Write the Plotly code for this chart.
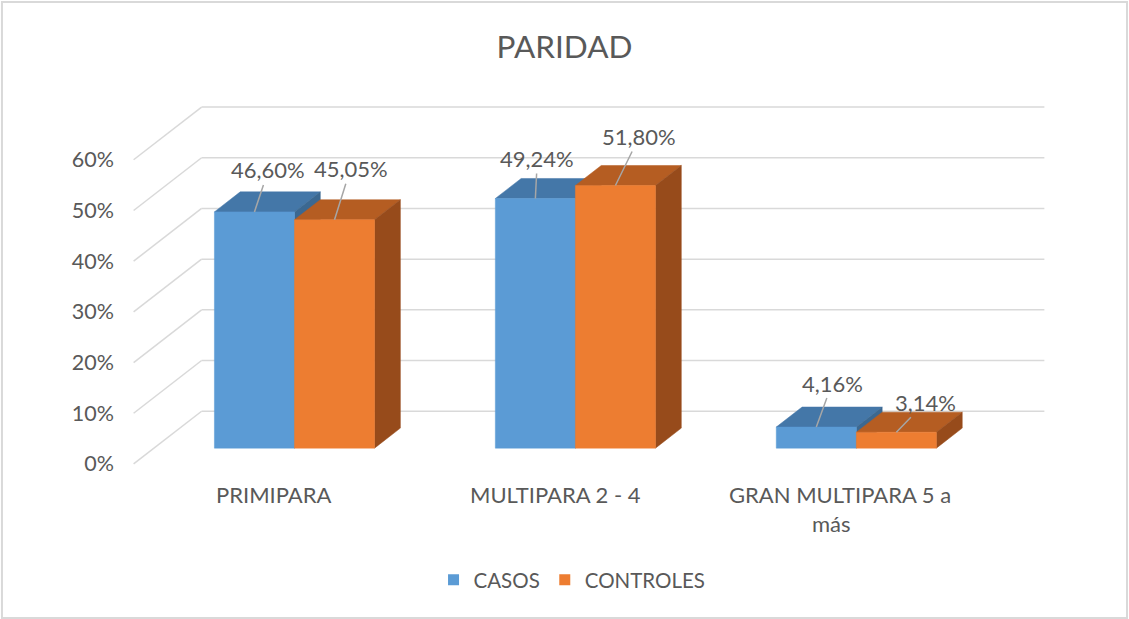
import plotly.graph_objects as go

# ---------------- data ----------------
categories = ["PRIMIPARA", "MULTIPARA 2 - 4", "GRAN MULTIPARA 5 a más"]
casos = [46.60, 49.24, 4.16]
controles = [45.05, 51.80, 3.14]
series_names = ["CASOS", "CONTROLES"]
tick_values = [0, 10, 20, 30, 40, 50, 60]
tick_labels = ["0%", "10%", "20%", "30%", "40%", "50%", "60%"]
title_text = "PARIDAD"

# ---------------- style / projection ----------------
FONT = "Lato"
TXT = "#595959"
GRID = "#D9D9D9"
DX = 0.242      # full depth shift along x (category units)
DY = 10.4       # full depth shift along y (percent units)
D0, D1 = 0.30, 0.68   # bar depth start / end (fraction of full depth)
BW = 0.285      # bar width
front_cols = ["#5B9BD5", "#ED7D31"]
top_cols = ["#4477A8", "#B55D22"]
side_cols = ["#3B6891", "#974B1B"]
label_offsets = [[(14, -42), (16, -51)], [(2, -40), (24, -49)], [(16, -44), (29, -30)]]

fig = go.Figure()

# walls: back grid lines and left-wall diagonals
gx, gy = [], []
for v in tick_values:
    gx += [-0.5 + DX, 2.5 + DX, None]
    gy += [v + DY, v + DY, None]
    gx += [-0.5, -0.5 + DX, None]
    gy += [v, v + DY, None]
fig.add_trace(go.Scatter(x=gx, y=gy, mode="lines", line=dict(color=GRID, width=1.5),
                         hoverinfo="skip", showlegend=False))

def poly(xs, ys, color):
    fig.add_trace(go.Scatter(x=xs + [xs[0]], y=ys + [ys[0]], mode="lines", fill="toself",
                             fillcolor=color, line=dict(color=color, width=0.5),
                             hoverinfo="skip", showlegend=False))

series = [casos, controles]
annotations = []
bx0 = D0 * DX
by0 = D0 * DY
ddx = (D1 - D0) * DX
ddy = (D1 - D0) * DY
for i, cat in enumerate(categories):
    for s, vals in enumerate(series):
        v = vals[i]
        xl = i + bx0 + (-BW if s == 0 else 0)
        xr = xl + BW
        b = by0
        top = b + v
        # top face
        poly([xl, xr, xr + ddx, xl + ddx], [top, top, top + ddy, top + ddy], top_cols[s])
        # side face
        poly([xr, xr, xr + ddx, xr + ddx], [b, top, top + ddy, b + ddy], side_cols[s])
        # front face
        poly([xl, xr, xr, xl], [b, b, top, top], front_cols[s])
        ax, ay = label_offsets[i][s]
        annotations.append(dict(
            x=(xl + xr) / 2, y=top, xref="x", yref="y",
            text=f"{v:.2f}".replace(".", ",") + "%",
            showarrow=True, arrowhead=0, arrowwidth=1.5, arrowcolor="#A6A6A6",
            ax=ax, ay=ay, standoff=0,
            font=dict(family=FONT, size=22, color=TXT)))

# legend entries
for s, name in enumerate(series_names):
    fig.add_trace(go.Scatter(x=[None], y=[None], mode="markers", name=name,
                             marker=dict(symbol="square", size=11, color=front_cols[s])))

# category labels
cat_lines = [[categories[0]], [categories[1]], ["GRAN MULTIPARA 5 a", "más"]]
cat_shift = [[0], [0], [4, -4]]
for i, lines in enumerate(cat_lines):
    for j, line in enumerate(lines):
        annotations.append(dict(
            x=i, y=-0.0744 - 0.08 * j, xref="x", yref="paper", text=line,
            showarrow=False, xshift=cat_shift[i][j], yanchor="middle",
            font=dict(family=FONT, size=22, color=TXT)))

fig.update_layout(
    width=1129, height=619,
    margin=dict(l=128, r=79, t=104, b=152),
    paper_bgcolor="white", plot_bgcolor="white",
    title=dict(text=title_text, x=0.5, xanchor="center", y=0.924, yanchor="middle",
               font=dict(family=FONT, size=31.5, color=TXT)),
    xaxis=dict(range=[-0.52, 2.5 + DX + 0.02], showgrid=False, zeroline=False,
               showticklabels=False, showline=False, fixedrange=True),
    yaxis=dict(range=[-0.6, 71.0], showgrid=False, zeroline=False, showline=False,
               tickvals=tick_values, ticktext=tick_labels, ticklabelstandoff=13,
               tickfont=dict(family=FONT, size=21.5, color=TXT), fixedrange=True),
    showlegend=True,
    legend=dict(orientation="h", x=0.4816, xanchor="center", y=-0.311, yanchor="middle",
                font=dict(family=FONT, size=20.5, color=TXT)),
    annotations=annotations,
    shapes=[dict(type="rect", xref="paper", yref="paper",
                 x0=-0.1367, x1=1.0835, y0=-0.416, y1=1.281,
                 line=dict(color=GRID, width=2), layer="below")],
)

fig.write_html("out.html", config={"displayModeBar": False},
               post_script="document.body.style.margin='0';document.body.style.overflow='hidden';")
